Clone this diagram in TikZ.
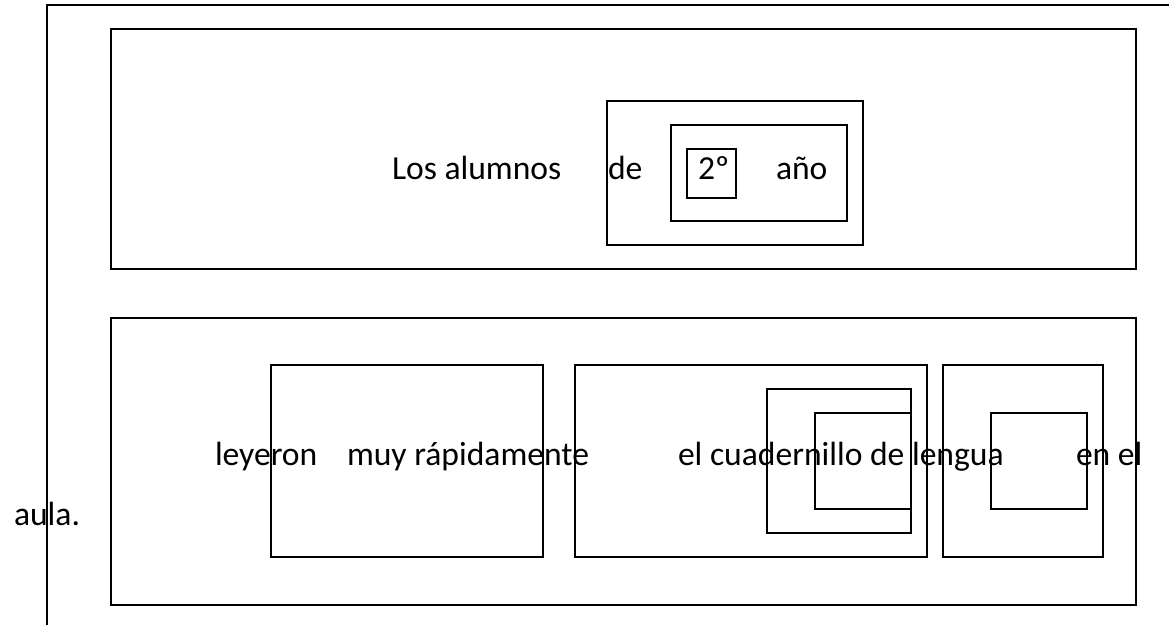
\documentclass[tikz,border=0pt]{standalone}
\usepackage{fontspec}
\setmainfont{Carlito}
\begin{document}
\begin{tikzpicture}[x=1pt,y=-1pt,
  box/.style={draw=black,line width=1.6pt,inner sep=0pt,outer sep=0pt},
  word/.style={inner sep=0pt,outer sep=0pt,anchor=base west,font=\fontsize{33.6}{40}\selectfont}]
\useasboundingbox (0,0) rectangle (1169,625);
% outer frame
\coordinate (fb) at (47,625);
\coordinate (fc) at (47,5);
\coordinate (fr) at (1169,5);
\draw[line width=1.6pt] (fb) -- (fc) -- (fr);
% top sentence part
\node[box,minimum width=1025pt,minimum height=240pt] (top) at (623.5,149) {};
\node[box,minimum width=256pt,minimum height=144pt] (a) at (735,173) {};
\node[box,minimum width=176pt,minimum height=96pt] (b) at (759,173) {};
\node[box,minimum width=49pt,minimum height=49pt] (c) at (711.5,173.5) {};
\node[word] (t1) at (392,179) {Los alumnos};
\node[word] (t2) at (608,179) {de};
\node[word] (t3) at (698,179) {2º};
\node[word] (t4) at (776,179) {año};
% bottom sentence part
\node[box,minimum width=1025pt,minimum height=287pt] (bot) at (623.5,461.5) {};
\node[box,minimum width=272pt,minimum height=192pt] (d) at (407,461) {};
\node[box,minimum width=352pt,minimum height=192pt] (e) at (751,461) {};
\node[box,minimum width=144pt,minimum height=144pt] (f) at (839,461) {};
\node[box,minimum width=96pt,minimum height=96pt] (g) at (863,461) {};
\node[box,minimum width=160pt,minimum height=192pt] (h) at (1023,461) {};
\node[box,minimum width=96pt,minimum height=96pt] (i) at (1039,461) {};
\node[word] (w1) at (215,465) {leyeron};
\node[word] (w2) at (347,465) {muy rápidamente};
\node[word] (w3) at (678,465) {el cuadernillo de lengua};
\node[word] (w4) at (1076,465) {en el};
\node[word] (w5) at (14,525) {aula.};
\end{tikzpicture}
\end{document}
